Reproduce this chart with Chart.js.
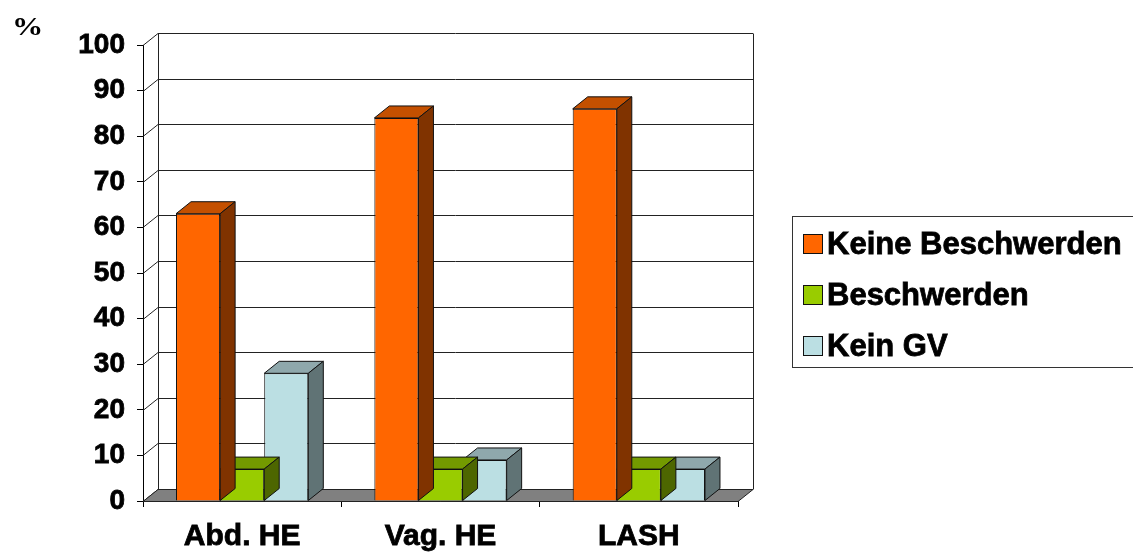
<!DOCTYPE html>
<html>
<head>
<meta charset="utf-8">
<script src="https://cdn.jsdelivr.net/npm/chart.js@4/dist/chart.umd.min.js"></script>
<style>
  html, body { margin: 0; padding: 0; background: #ffffff; }
  #wrap { width: 1133px; height: 553px; }
</style>
</head>
<body>
<div id="wrap"><canvas id="c" width="1133" height="553"></canvas></div>
<script>
// Categories and series (percent)
const categories = ['Abd. HE', 'Vag. HE', 'LASH'];
const keineBeschwerden = [63, 84, 86];
const beschwerden = [7, 7, 7];
const keinGV = [28, 9, 7];
const seriesNames = ['Keine Beschwerden', 'Beschwerden', 'Kein GV'];
const yTicks = [0, 10, 20, 30, 40, 50, 60, 70, 80, 90, 100];
const unitLabel = '%';

// Colours: front face, top face, side face
const palette = [
  { front: '#FF6600', top: '#C45000', side: '#803300' },
  { front: '#99CC00', top: '#739A00', side: '#4D6600' },
  { front: '#BBDFE3', top: '#8FA8AC', side: '#607375' }
];

const FONT = "'Liberation Sans', Arial, sans-serif";
const DX = 15, DY = -12;   // depth offset of the 3D box

function poly(ctx, pts, fill, stroke) {
  ctx.beginPath();
  ctx.moveTo(pts[0][0], pts[0][1]);
  for (let i = 1; i < pts.length; i++) ctx.lineTo(pts[i][0], pts[i][1]);
  ctx.closePath();
  if (fill) { ctx.fillStyle = fill; ctx.fill(); }
  if (stroke) { ctx.strokeStyle = stroke; ctx.lineWidth = 1; ctx.stroke(); }
}

// Back wall, side-wall diagonals, floor, box tops/sides, unit label and legend
const wallPlugin = {
  id: 'wall3d',
  beforeDatasetsDraw(chart) {
    const ctx = chart.ctx;
    const { left, right } = chart.chartArea;
    const ys = chart.scales.y;
    const y0 = ys.getPixelForValue(0);
    const y100 = ys.getPixelForValue(100);
    ctx.save();
    ctx.lineWidth = 1;
    ctx.strokeStyle = '#222';
    yTicks.forEach(v => {
      const y = Math.round(ys.getPixelForValue(v)) + 0.5;
      ctx.beginPath();
      ctx.moveTo(left + DX, y + DY);
      ctx.lineTo(right + DX, y + DY);
      ctx.stroke();
      ctx.beginPath();
      ctx.moveTo(left, y);
      ctx.lineTo(left + DX, y + DY);
      ctx.stroke();
    });
    const bl = Math.round(left + DX) + 0.5, br = Math.round(right + DX) + 0.5;
    ctx.beginPath();
    ctx.moveTo(bl, Math.round(y100) + DY + 0.5);
    ctx.lineTo(bl, Math.round(y0) + DY + 0.5);
    ctx.moveTo(br, Math.round(y100) + DY + 0.5);
    ctx.lineTo(br, Math.round(y0) + DY + 0.5);
    ctx.stroke();
    const fy = Math.round(y0) + 0.5;
    poly(ctx, [[left, fy], [right, fy], [right + DX, fy + DY], [left + DX, fy + DY]], '#808080', '#222');
    ctx.restore();
  },
  afterDatasetDraw(chart, args) {
    const ctx = chart.ctx;
    const meta = chart.getDatasetMeta(args.index);
    const col = palette[args.index];
    ctx.save();
    meta.data.forEach(bar => {
      const p = bar.getProps(['x', 'y', 'base', 'width'], true);
      const l = p.x - p.width / 2, r = p.x + p.width / 2;
      const t = p.y, b = p.base;
      poly(ctx, [[l, t], [r, t], [r + DX, t + DY], [l + DX, t + DY]], col.top, '#111');
      poly(ctx, [[r, t], [r + DX, t + DY], [r + DX, b + DY], [r, b]], col.side, '#111');
    });
    ctx.restore();
  },
  afterDraw(chart) {
    const ctx = chart.ctx;
    ctx.save();
    ctx.fillStyle = '#000';
    ctx.font = "bold 25px 'Liberation Serif', 'Times New Roman', serif";
    ctx.textBaseline = 'alphabetic';
    ctx.save();
    ctx.translate(12, 35);
    ctx.scale(1.25, 1);
    ctx.fillText(unitLabel, 0, 0);
    ctx.restore();
    const lx = 792.5, ly = 216.5, lw = 360, lh = 151;
    ctx.strokeStyle = '#333';
    ctx.lineWidth = 1;
    ctx.strokeRect(lx, ly, lw, lh);
    const rows = [244, 295, 346];
    ctx.font = 'bold 31px ' + FONT;
    ctx.textBaseline = 'middle';
    ctx.textAlign = 'left';
    chart.data.datasets.forEach((ds, i) => {
      const cy = rows[i];
      ctx.fillStyle = ds.backgroundColor;
      ctx.fillRect(803, cy - 10, 20, 20);
      ctx.strokeStyle = '#111';
      ctx.lineWidth = 1;
      ctx.strokeRect(803.5, cy - 9.5, 19, 19);
      ctx.fillStyle = '#000';
      ctx.strokeStyle = '#000';
      ctx.lineWidth = 0.8;
      ctx.fillText(ds.label, 827, cy + 1);
      ctx.strokeText(ds.label, 827, cy + 1);
    });
    ctx.restore();
  }
};

const seriesValues = [keineBeschwerden, beschwerden, keinGV];

new Chart(document.getElementById('c'), {
  type: 'bar',
  data: {
    labels: categories,
    datasets: seriesValues.map((vals, i) => ({
      label: seriesNames[i],
      data: vals,
      backgroundColor: palette[i].front,
      borderColor: '#111',
      borderWidth: 1,
      categoryPercentage: 0.667,
      barPercentage: 1.0
    }))
  },
  options: {
    responsive: false,
    devicePixelRatio: 1,
    animation: false,
    layout: { padding: { left: 0, top: 45, right: 395, bottom: 0 } },
    plugins: { legend: { display: false }, tooltip: { enabled: false } },
    scales: {
      x: {
        offset: true,
        grid: { offset: true, drawOnChartArea: false, drawTicks: true, tickLength: 6, color: '#000' },
        border: { display: true, color: '#000', width: 1 },
        ticks: {
          color: '#000', padding: 12, textStrokeColor: '#000', textStrokeWidth: 0.8,
          font: { family: FONT, size: 30, weight: 'bold' }
        },
        afterFit(scale) { scale.height = 52; }
      },
      y: {
        min: 0,
        max: 100,
        afterBuildTicks(scale) { scale.ticks = yTicks.map(v => ({ value: v })); },
        grid: { drawOnChartArea: false, drawTicks: true, tickLength: 6, color: '#000' },
        border: { display: true, color: '#000', width: 1 },
        ticks: {
          color: '#000', padding: 12, textStrokeColor: '#000', textStrokeWidth: 0.8,
          font: { family: FONT, size: 28, weight: 'bold' }
        },
        afterFit(scale) { scale.width = 143; }
      }
    }
  },
  plugins: [wallPlugin]
});
</script>
</body>
</html>
